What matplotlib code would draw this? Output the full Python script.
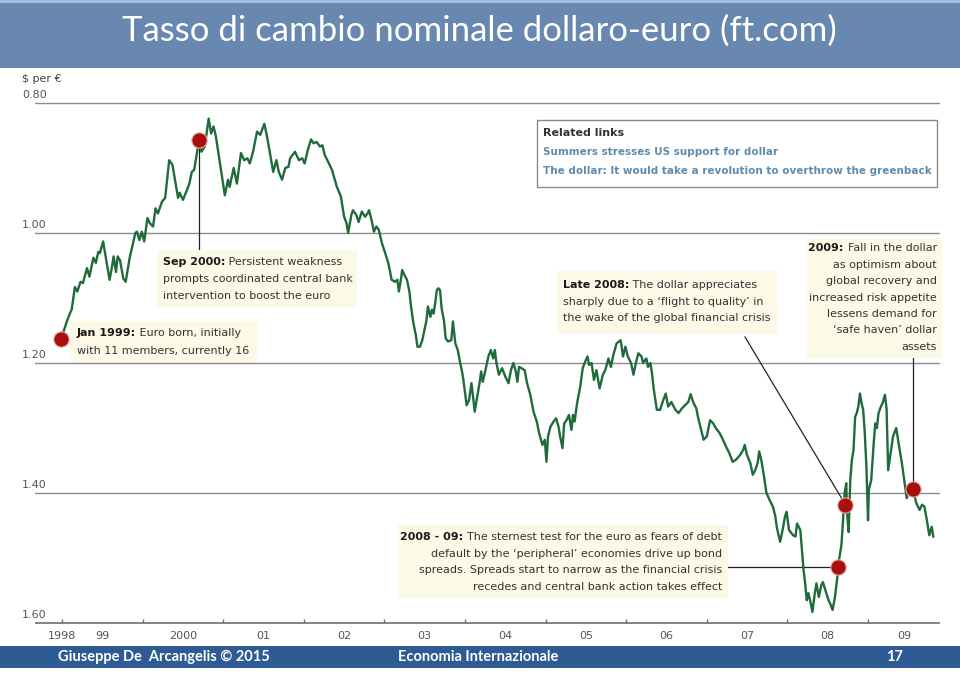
import matplotlib
matplotlib.use("Agg")
import matplotlib.pyplot as plt
from matplotlib.patches import Rectangle
from matplotlib.text import Annotation

# dollar per euro (axis is inverted)
years = [1998.99, 1999.06, 1999.10, 1999.12, 1999.16, 1999.19, 1999.23, 1999.26, 1999.31, 1999.34,
         1999.39, 1999.42, 1999.45, 1999.47, 1999.51, 1999.55, 1999.59, 1999.62, 1999.64, 1999.67,
         1999.69, 1999.72, 1999.76, 1999.79, 1999.84, 1999.91, 1999.93, 1999.96, 1999.99, 2000.02,
         2000.06, 2000.09, 2000.13, 2000.16, 2000.19, 2000.24, 2000.28, 2000.33, 2000.37, 2000.44,
         2000.46, 2000.50, 2000.55, 2000.58, 2000.61, 2000.64, 2000.67, 2000.70, 2000.73, 2000.77,
         2000.82, 2000.85, 2000.88, 2000.91, 2000.96, 2001.02, 2001.06, 2001.08, 2001.13, 2001.17,
         2001.22, 2001.26, 2001.30, 2001.33, 2001.37, 2001.42, 2001.46, 2001.51, 2001.54, 2001.58,
         2001.62, 2001.66, 2001.69, 2001.73, 2001.77, 2001.81, 2001.83, 2001.89, 2001.94, 2001.98,
         2002.01, 2002.05, 2002.09, 2002.12, 2002.16, 2002.20, 2002.23, 2002.26, 2002.30, 2002.35,
         2002.41, 2002.46, 2002.50, 2002.53, 2002.55, 2002.59, 2002.61, 2002.65, 2002.68, 2002.72,
         2002.76, 2002.79, 2002.81, 2002.84, 2002.87, 2002.90, 2002.93, 2002.97, 2003.01, 2003.05,
         2003.09, 2003.13, 2003.16, 2003.18, 2003.21, 2003.22, 2003.25, 2003.28, 2003.31, 2003.33,
         2003.36, 2003.39, 2003.41, 2003.44, 2003.47, 2003.50, 2003.52, 2003.54, 2003.57, 2003.59,
         2003.61, 2003.63, 2003.65, 2003.67, 2003.69, 2003.71, 2003.74, 2003.76, 2003.79, 2003.83,
         2003.85, 2003.87, 2003.88, 2003.91, 2003.94, 2003.96, 2003.98, 2004.02, 2004.05, 2004.08,
         2004.10, 2004.12, 2004.18, 2004.20, 2004.22, 2004.25, 2004.29, 2004.32, 2004.35, 2004.37,
         2004.39, 2004.42, 2004.46, 2004.50, 2004.54, 2004.57, 2004.60, 2004.63, 2004.65, 2004.67,
         2004.70, 2004.74, 2004.77, 2004.81, 2004.85, 2004.89, 2004.92, 2004.96, 2004.99, 2005.01,
         2005.03, 2005.06, 2005.10, 2005.13, 2005.16, 2005.18, 2005.21, 2005.23, 2005.26, 2005.29,
         2005.32, 2005.34, 2005.36, 2005.39, 2005.43, 2005.46, 2005.49, 2005.52, 2005.54, 2005.57,
         2005.60, 2005.63, 2005.67, 2005.71, 2005.74, 2005.78, 2005.81, 2005.84, 2005.88, 2005.91,
         2005.93, 2005.94, 2005.96, 2005.99, 2006.02, 2006.06, 2006.09, 2006.12, 2006.15, 2006.19,
         2006.21, 2006.25, 2006.27, 2006.30, 2006.32, 2006.34, 2006.38, 2006.42, 2006.46, 2006.49,
         2006.52, 2006.56, 2006.61, 2006.65, 2006.69, 2006.73, 2006.77, 2006.80, 2006.83, 2006.87,
         2006.89, 2006.92, 2006.96, 2007.00, 2007.04, 2007.08, 2007.11, 2007.16, 2007.20, 2007.24,
         2007.28, 2007.32, 2007.36, 2007.41, 2007.45, 2007.47, 2007.50, 2007.54, 2007.57, 2007.60,
         2007.63, 2007.65, 2007.68, 2007.71, 2007.74, 2007.78, 2007.82, 2007.85, 2007.87, 2007.91,
         2007.94, 2007.97, 2007.99, 2008.02, 2008.07, 2008.10, 2008.12, 2008.16, 2008.17, 2008.20,
         2008.22, 2008.24, 2008.26, 2008.29, 2008.31, 2008.34, 2008.36, 2008.39, 2008.42, 2008.44,
         2008.47, 2008.51, 2008.53, 2008.56, 2008.59, 2008.62, 2008.64, 2008.67, 2008.69, 2008.71,
         2008.73, 2008.74, 2008.76, 2008.78, 2008.80, 2008.82, 2008.84, 2008.86, 2008.88, 2008.90,
         2008.92, 2008.94, 2008.96, 2008.98, 2009.00, 2009.01, 2009.04, 2009.07, 2009.09, 2009.11,
         2009.13, 2009.16, 2009.18, 2009.21, 2009.23, 2009.25, 2009.28, 2009.31, 2009.35, 2009.38,
         2009.42, 2009.46, 2009.48, 2009.51, 2009.56, 2009.60, 2009.64, 2009.67, 2009.70, 2009.73,
         2009.76, 2009.79, 2009.81]
rate = [1.163, 1.136, 1.123, 1.118, 1.083, 1.090, 1.075, 1.077, 1.054, 1.067,
        1.038, 1.046, 1.029, 1.031, 1.013, 1.042, 1.072, 1.052, 1.036, 1.060,
        1.036, 1.042, 1.070, 1.075, 1.038, 1.000, 0.998, 1.011, 0.998, 1.013,
        0.977, 0.985, 0.990, 0.962, 0.970, 0.952, 0.946, 0.888, 0.895, 0.946,
        0.938, 0.949, 0.934, 0.924, 0.906, 0.903, 0.880, 0.857, 0.875, 0.867,
        0.824, 0.847, 0.836, 0.852, 0.893, 0.942, 0.918, 0.929, 0.900, 0.924,
        0.877, 0.888, 0.885, 0.893, 0.875, 0.844, 0.849, 0.832, 0.849, 0.877,
        0.906, 0.888, 0.906, 0.918, 0.900, 0.898, 0.885, 0.875, 0.888, 0.885,
        0.893, 0.872, 0.856, 0.862, 0.860, 0.867, 0.865, 0.880, 0.890, 0.903,
        0.929, 0.944, 0.975, 0.985, 1.000, 0.972, 0.965, 0.972, 0.983, 0.967,
        0.975, 0.970, 0.965, 0.980, 0.998, 0.990, 0.995, 1.016, 1.031, 1.047,
        1.072, 1.075, 1.072, 1.090, 1.067, 1.057, 1.065, 1.072, 1.090, 1.113,
        1.139, 1.157, 1.175, 1.175, 1.165, 1.147, 1.136, 1.113, 1.129, 1.118,
        1.124, 1.108, 1.088, 1.085, 1.088, 1.116, 1.136, 1.162, 1.167, 1.165,
        1.136, 1.159, 1.170, 1.180, 1.200, 1.211, 1.226, 1.265, 1.257, 1.231,
        1.252, 1.275, 1.231, 1.213, 1.229, 1.213, 1.190, 1.180, 1.193, 1.180,
        1.200, 1.218, 1.208, 1.221, 1.231, 1.211, 1.200, 1.213, 1.229, 1.206,
        1.208, 1.211, 1.231, 1.249, 1.275, 1.290, 1.308, 1.326, 1.318, 1.352,
        1.313, 1.298, 1.290, 1.285, 1.298, 1.313, 1.331, 1.293, 1.288, 1.280,
        1.303, 1.280, 1.290, 1.262, 1.236, 1.208, 1.198, 1.190, 1.203, 1.200,
        1.226, 1.211, 1.239, 1.218, 1.211, 1.193, 1.206, 1.188, 1.170, 1.167,
        1.165, 1.172, 1.190, 1.175, 1.190, 1.200, 1.218, 1.200, 1.185, 1.190,
        1.200, 1.193, 1.206, 1.200, 1.216, 1.239, 1.272, 1.272, 1.257, 1.247,
        1.267, 1.260, 1.272, 1.277, 1.270, 1.265, 1.260, 1.248, 1.260, 1.270,
        1.283, 1.298, 1.318, 1.313, 1.288, 1.293, 1.300, 1.308, 1.318, 1.329,
        1.339, 1.352, 1.349, 1.342, 1.334, 1.326, 1.342, 1.354, 1.372, 1.365,
        1.354, 1.336, 1.352, 1.375, 1.400, 1.411, 1.421, 1.436, 1.454, 1.475,
        1.457, 1.436, 1.429, 1.457, 1.465, 1.467, 1.447, 1.457, 1.472, 1.518,
        1.539, 1.565, 1.554, 1.570, 1.583, 1.554, 1.539, 1.560, 1.542, 1.537,
        1.549, 1.565, 1.570, 1.580, 1.560, 1.529, 1.503, 1.480, 1.442, 1.400,
        1.385, 1.431, 1.460, 1.380, 1.349, 1.334, 1.283, 1.277, 1.267, 1.247,
        1.262, 1.272, 1.308, 1.360, 1.442, 1.395, 1.380, 1.324, 1.293, 1.300,
        1.277, 1.267, 1.262, 1.249, 1.270, 1.365, 1.339, 1.313, 1.300, 1.324,
        1.354, 1.390, 1.408, 1.395, 1.395, 1.416, 1.426, 1.418, 1.421, 1.442,
        1.465, 1.452, 1.467]

# red dots: Jan 1999, Sep 2000, 2008-09, Late 2008, 2009
event_years = [1998.99, 2000.70, 2008.63, 2008.72, 2009.56]
event_rate = [1.163, 0.857, 1.514, 1.418, 1.394]

grid_values = [0.80, 1.00, 1.20, 1.40]
ylabel_values = [0.80, 1.00, 1.20, 1.40, 1.60]
ylabel_text = ['0.80', '1.00', '1.20', '1.40', '1.60']
tick_years = list(range(1999, 2010))
xlabel_pos = [1999.0, 1999.5, 2000.5, 2001.5, 2002.5, 2003.5, 2004.5, 2005.5,
              2006.5, 2007.5, 2008.5, 2009.45]
xlabel_text = ['1998', '99', '2000', '01', '02', '03', '04', '05', '06', '07', '08', '09']

W, H = 960, 673
GREEN = '#1f6b3a'
CREAM = '#fcf9e6'
INK = '#333333'
FT_FONT, FT_SIZE = 'DejaVu Sans', 8
SLIDE_FONT = 'Lato'


def fx(px):
    return px / W


def fy(py):
    return 1 - py / H


fig = plt.figure(figsize=(9.6, 6.73), dpi=100)
fig.patch.set_facecolor('white')

# slide title bar and footer
fig.add_artist(Rectangle((0, fy(68)), 1, fy(0) - fy(68), transform=fig.transFigure,
                         facecolor='#6888b0', edgecolor='none', zorder=0))
fig.add_artist(Rectangle((0, fy(3)), 1, fy(0) - fy(3), transform=fig.transFigure,
                         facecolor='#a3bddd', edgecolor='none', zorder=0))
fig.text(fx(479), fy(31), 'Tasso di cambio nominale dollaro-euro (ft.com)', color='white',
         fontsize=25, family=SLIDE_FONT, ha='center', va='center')
fig.add_artist(Rectangle((0, fy(668)), 1, fy(646) - fy(668), transform=fig.transFigure,
                         facecolor='#2f5b94', edgecolor='none', zorder=0))
foot = dict(color='white', fontsize=10.5, family=SLIDE_FONT, weight='bold', va='center')
fig.text(fx(58), fy(657), 'Giuseppe De  Arcangelis \u00a9 2015', ha='left', **foot)
fig.text(fx(398), fy(657), 'Economia Internazionale', ha='left', **foot)
fig.text(fx(894), fy(657), '17', ha='center', **foot)

# chart axes: 0.78 .. 1.62 mapped onto pixels 90 .. 636
ax = fig.add_axes([fx(35), fy(636), fx(940) - fx(35), fy(90) - fy(636)])
ax.set_xlim(1998.665, 2009.893)
ax.set_ylim(1.62, 0.78)
ax.patch.set_visible(False)
for s in ax.spines.values():
    s.set_visible(False)
ax.set_xticks([])
ax.set_yticks([])

for v in grid_values:
    ax.axhline(v, color='#8c8c8c', lw=1.0, zorder=1)
ax.axhline(1.60, color='#6e6e6e', lw=1.2, zorder=1)
ax.vlines(tick_years, 1.60, 1.594, color='#6e6e6e', lw=1.0, zorder=1)

for pos, lab in zip(xlabel_pos, xlabel_text):
    ax.annotate(lab, xy=(pos, 1.60), xycoords='data', xytext=(0, -13), textcoords='offset pixels',
                ha='center', va='center', color='#555555', fontsize=FT_SIZE, family=FT_FONT,
                annotation_clip=False)
for v, lab in zip(ylabel_values, ylabel_text):
    ax.annotate(lab, xy=(0, v), xycoords=ax.get_yaxis_transform(), xytext=(-13, 8),
                textcoords='offset pixels', ha='left', va='center', color='#555555',
                fontsize=FT_SIZE, family=FT_FONT, annotation_clip=False)
ax.annotate('$ per \u20ac', xy=(0, 0.80), xycoords=ax.get_yaxis_transform(), xytext=(-13, 24),
            textcoords='offset pixels', ha='left', va='center', color='#444444',
            fontsize=FT_SIZE, family=FT_FONT, annotation_clip=False)

ax.plot(years, rate, color=GREEN, lw=1.7, solid_joinstyle='round', zorder=3)

# connector lines from the dots to their notes
links = [((2000.70, 0.857), (2000.70, 1.029)),
         ((2009.56, 1.394), (2009.56, 1.192)),
         ((2008.72, 1.418), (2007.474, 1.160)),
         ((2008.63, 1.514), (2007.189, 1.514))]
for (x0, y0), (x1, y1) in links:
    ax.plot([x0, x1], [y0, y1], color='#222222', lw=0.9, zorder=2)

ax.plot(event_years, event_rate, 'o', ms=11, mfc='#a80f0f', mec='#e9a79a', mew=0.8, zorder=5)

# note boxes (pixel layout)
boxes = [(70, 321, 258, 362), (157, 250, 357, 307), (557, 271, 778, 334),
         (806, 238, 942, 358), (398, 525, 728, 598)]
for x0, y0, x1, y1 in boxes:
    fig.add_artist(Rectangle((fx(x0), fy(y1)), fx(x1) - fx(x0), fy(y0) - fy(y1),
                             transform=fig.transFigure, facecolor=CREAM, edgecolor='none',
                             zorder=1))
fig.add_artist(Rectangle((fx(537), fy(187)), fx(937) - fx(537), fy(120) - fy(187),
                         transform=fig.transFigure, facecolor='white', edgecolor='#8a8a8a',
                         lw=1.0, zorder=1))

txt = dict(fontsize=FT_SIZE, family=FT_FONT, color=INK, va='center', zorder=4)


def rich(x, y, bold, rest, ha='left'):
    if ha == 'left':
        t1 = fig.text(fx(x), fy(y), bold, ha='left', weight='bold', **txt)
        t1.set_color('#1a1a1a')
        a = Annotation(' ' + rest, xy=(1, 0.5), xycoords=t1, ha='left', **txt)
    else:
        t2 = fig.text(fx(x), fy(y), rest, ha='right', **txt)
        a = Annotation(bold + ' ', xy=(0, 0.5), xycoords=t2, ha='right', weight='bold', **txt)
        a.set_color('#1a1a1a')
    fig.add_artist(a)


def plain(x, ys, lines, ha='left'):
    for y, line in zip(ys, lines):
        fig.text(fx(x), fy(y), line, ha=ha, **txt)


rich(77, 333, 'Jan 1999:', 'Euro born, initially')
plain(77, [351], ['with 11 members, currently 16'])

rich(163, 262, 'Sep 2000:', 'Persistent weakness')
plain(163, [279, 296], ['prompts coordinated central bank', 'intervention to boost the euro'])

rich(563, 285, 'Late 2008:', 'The dollar appreciates')
plain(563, [302, 318], ['sharply due to a \u2018flight to quality\u2019 in',
                        'the wake of the global financial crisis'])

rich(937, 248, '2009:', 'Fall in the dollar', ha='right')
plain(937, [265, 281, 298, 314, 330, 347],
      ['as optimism about', 'global recovery and', 'increased risk appetite',
       'lessens demand for', '\u2018safe haven\u2019 dollar', 'assets'], ha='right')

rich(722, 537, '2008 - 09:', 'The sternest test for the euro as fears of debt', ha='right')
plain(722, [554, 570, 587],
      ['default by the \u2018peripheral\u2019 economies drive up bond',
       'spreads. Spreads start to narrow as the financial crisis',
       'recedes and central bank action takes effect'], ha='right')

fig.text(fx(543), fy(133), 'Related links', ha='left', weight='bold', **txt)
link_style = dict(txt, color='#5f8cae', fontsize=7.5)
fig.text(fx(543), fy(152), 'Summers stresses US support for dollar', ha='left',
         weight='bold', **link_style)
fig.text(fx(543), fy(171), 'The dollar: It would take a revolution to overthrow the greenback',
         ha='left', weight='bold', **link_style)

fig.savefig('out.png', dpi=100)
